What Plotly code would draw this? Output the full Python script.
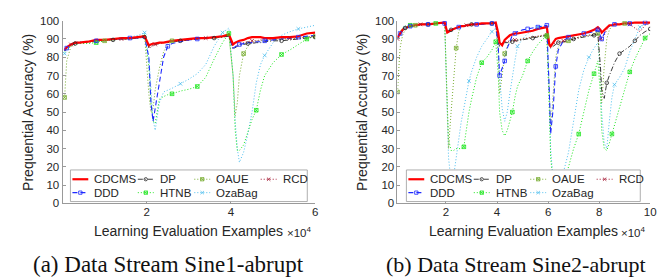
import plotly.graph_objects as go

W, H = 670, 278


def px(xp):
    return xp / W


def py(yp):
    return 1 - yp / H


# ---------------- data : panel (a) Sine1-abrupt ----------------
XA = [500, 1000, 2000, 3000, 4000, 6000, 8000, 10000, 12000, 14000, 16000, 18000, 19500,
      20500, 21000, 21500, 22000, 23000, 24000, 25000, 26000, 28000, 30000, 32000, 34000, 36000, 38000, 39500,
      40500, 41000, 41500, 42000, 43000, 44000, 45000, 46000, 47000, 48000, 50000, 52000, 54000, 56000, 58000, 60000]

A_CDCMS = [84, 85.5, 87, 88, 88, 88.5, 89.5, 89.5, 90, 90.5, 90.5, 91, 91.5,
           86.5, 87, 87.5, 87.5, 88, 88, 88.5, 89, 89.5, 90, 90.5, 90.5, 91, 91.5, 92.5,
           87, 88, 88.5, 89, 89.5, 90.5, 91, 91, 91, 90.5, 90.5, 91, 91, 91.5, 93, 93.5]
A_DDD = [83.5, 85, 87, 87.5, 88, 88.5, 89, 89.5, 90, 90, 90.5, 90.5, 91,
         80, 55, 45, 52, 68, 80, 86, 87.5, 88.5, 89.5, 90, 90.5, 91, 91.5, 92,
         85, 86, 86.5, 87, 87.5, 88, 88, 88.5, 88.5, 89, 89.5, 90, 90.5, 91, 91.5, 92]
A_DP = [83.5, 85, 86.5, 87.5, 88, 88.5, 89, 89, 89.5, 90, 90, 90.5, 91,
        85.5, 86, 86.5, 87, 87.5, 88, 88, 88.5, 89, 89.5, 90, 90.5, 90.5, 91, 91.5,
        84.5, 85.5, 86, 86.5, 87, 87.5, 87.5, 88, 88, 88.5, 89, 89, 89.5, 90, 90.5, 91]
A_HTNB = [83, 84, 86, 87, 87.5, 87.5, 88, 89, 89.5, 90, 90, 90.5, 92.5,
          75, 55, 45, 44, 57, 58.5, 59.5, 60, 61.5, 62.5, 64, 69, 79, 88, 93,
          70, 40, 29, 29, 32, 39, 46, 51, 62, 70, 77, 81.5, 84, 87, 90, 92]
A_OAUE = [58, 78, 86, 88, 88, 88, 88.5, 89, 89.5, 90, 90, 90.5, 91.5,
          60, 50, 52, 62, 74, 83, 87, 89, 89.5, 90, 90, 90.5, 90.5, 91, 92,
          70, 48, 55, 70, 82, 86, 88, 89, 89, 89.5, 89.5, 90, 90, 90.5, 91, 91.5]
A_OZABAG = [82, 85, 87, 88, 88.5, 88.5, 89, 89.5, 90, 90.5, 91, 92, 93.5,
            80, 60, 46, 40, 55, 61, 62, 63, 65.5, 68, 71, 76, 86, 93.5, 96,
            70, 45, 30, 22.5, 28, 38, 50, 66, 76, 81, 88, 92, 94, 95.5, 96.5, 97.5]
A_RCD = [84, 85, 87, 87.5, 88, 88.5, 89, 89.5, 90, 90, 90.5, 90.5, 91,
         85, 85.5, 86.5, 87, 87.5, 88, 88.5, 88.5, 89, 89.5, 90, 90.5, 91, 91, 92,
         85, 86, 87, 87.5, 88, 88.5, 89, 89, 89.5, 89.5, 90, 90, 90.5, 90.5, 91, 91.5]

# ---------------- data : panel (b) Sine2-abrupt ----------------
XB = [1000, 2000, 3000, 4000, 6000, 8000, 10000, 13000, 16000, 19500,
      20500, 21000, 22000, 23000, 24000, 25000, 26000, 27000, 28000, 29000, 30000, 32000, 34000, 36000, 38000, 39500,
      40500, 41000, 42000, 43000, 44000, 45000, 46000, 47000, 48000, 50000, 52000, 54000, 56000, 58000, 59500,
      60500, 61000, 62000, 63000, 64000, 66000, 68000, 70000, 72000, 74000, 76000, 78000, 79500,
      80500, 81000, 82000, 83000, 84000, 85000, 86000, 88000, 90000, 92000, 94000, 96000, 98000, 100000]

B_CDCMS = [91, 93, 95, 96, 97, 97.5, 98, 98, 98.5, 99,
           93.5, 94, 95, 95.5, 96, 96.5, 97, 97, 97.5, 97.5, 98, 98, 98.5, 98.5, 98.5, 99,
           93, 88, 86.5, 89.5, 91, 92, 92.5, 93, 93, 93.5, 94, 94.5, 95.5, 96, 96.5,
           87, 86, 88, 90, 90.5, 91, 91.5, 92, 92.5, 93, 94, 95, 96.5,
           95, 93.5, 95, 96.5, 97.5, 97.5, 98, 98, 98.5, 98.5, 99, 99, 99, 99]
B_DDD = [90.5, 93, 95, 96, 97, 97.5, 98, 98, 98.5, 98.5,
         94, 94.5, 95, 95.5, 96, 96.5, 97, 97, 97.5, 97.5, 98, 98, 98, 98.5, 98.5, 98.5,
         85, 70, 74, 78, 85, 89, 92, 93, 94, 95, 95.5, 96, 96.5, 97, 97.5,
         60, 38, 52, 75, 84, 89, 91, 92, 92.5, 93, 93.5, 94, 95,
         91, 90, 93, 96, 97, 97.5, 98, 98, 98.5, 98.5, 99, 99, 99, 99]
B_DP = [90.5, 92.5, 94.5, 96, 97, 97.5, 98, 98, 98.5, 98.5,
        94, 94.5, 95, 95.5, 96, 96.5, 97, 97, 97.5, 97.5, 98, 98, 98, 98.5, 98.5, 98.5,
        88, 86, 87.5, 88, 88, 88.5, 88.5, 89, 89, 89.5, 90, 90.5, 91, 91.5, 92,
        86, 85, 86, 87, 88, 88.5, 89, 90, 90.5, 91, 91.5, 92, 92.5,
        75, 62, 57.5, 66, 70, 74, 77, 82, 84, 86, 89, 92, 94, 95.5]
B_HTNB = [90, 94, 96, 97, 97.5, 98, 98, 98.5, 98.5, 99,
          55, 35, 29, 29, 30, 30, 30, 31, 42, 50, 57, 69, 77, 80, 84, 88.5,
          70, 50, 40, 37, 40, 45, 50, 58, 64, 70, 78, 83, 87, 90, 91.5,
          50, 25, 12, 7, 5, 10, 20, 30, 38, 50, 62, 71, 78,
          60, 40, 30, 29, 33, 38, 43, 52, 63, 72, 79, 85, 90.5, 93]
B_OAUE = [61, 85, 92, 95, 97, 97.5, 98, 98, 98.5, 98.5,
          45, 30, 50, 70, 85, 94, 97, 97, 97.5, 97.5, 98, 98, 98, 98.5, 98.5, 98.5,
          80, 60, 70, 82, 86, 88, 89, 89, 89.5, 90, 90.5, 91, 91.5, 92, 92,
          60, 40, 60, 80, 86, 88, 89, 90, 91, 91.5, 92, 92.5, 93,
          70, 55, 75, 90, 95, 97, 97.5, 98, 98.5, 98.5, 99, 99, 99, 99]
B_OZABAG = [90, 93, 95, 96, 97, 97.5, 98, 98, 98.5, 98.5,
            50, 25, 12, 15, 25, 35, 45, 52, 60, 67, 72, 80, 86, 90, 94, 96,
            85, 70, 52, 45, 50, 60, 70, 78, 86, 90, 93, 95, 96.5, 97, 97.5,
            60, 30, 12, 8, 10, 17, 28, 45, 62, 73, 80, 85, 88,
            70, 50, 33, 30, 45, 58, 65, 69, 74, 83, 90, 96.5, 98, 98.5]
B_RCD = [90, 92.5, 94.5, 96, 97, 97.5, 98, 98, 98.5, 98.5,
         94, 94.5, 95, 95.5, 96, 96.5, 97, 97, 97.5, 97.5, 98, 98, 98, 98.5, 98.5, 98.5,
         87, 87, 88, 88.5, 88.5, 89, 89, 89.5, 89.5, 90, 90.5, 91, 91.5, 92, 92.5,
         86, 86, 87, 88, 88.5, 89, 89.5, 90, 91, 91.5, 92, 92.5, 93,
         90, 89, 92, 95, 97, 97.5, 98, 98, 98, 98, 96, 94, 97.5, 98.5]

METHODS = ["CDCMS", "DDD", "DP", "HTNB", "OAUE", "OzaBag", "RCD"]
PANEL_A = {"CDCMS": A_CDCMS, "DDD": A_DDD, "DP": A_DP, "HTNB": A_HTNB,
           "OAUE": A_OAUE, "OzaBag": A_OZABAG, "RCD": A_RCD}
PANEL_B = {"CDCMS": B_CDCMS, "DDD": B_DDD, "DP": B_DP, "HTNB": B_HTNB,
           "OAUE": B_OAUE, "OzaBag": B_OZABAG, "RCD": B_RCD}

Y_TICKS = list(range(0, 101, 10))
XA_TICKS = [20000, 40000, 60000]
XA_TICKTEXT = ["2", "4", "6"]
XB_TICKS = [20000, 40000, 60000, 80000, 100000]
XB_TICKTEXT = ["2", "4", "6", "8", "10"]

# ---------------- styling ----------------
STYLE = {
    "CDCMS": dict(color="#ff0000", width=2.2, dash="solid", symbol=None),
    "DDD": dict(color="#1f2bff", width=1.1, dash="5px,3px", symbol="square-open"),
    "DP": dict(color="#262626", width=0.9, dash="5px,2px,1px,2px", symbol="circle-open"),
    "HTNB": dict(color="#1ee61e", width=1.0, dash="1px,2px", symbol="square-x-open"),
    "OAUE": dict(color="#77ac30", width=1.0, dash="1px,2px", symbol="square-x-open"),
    "OzaBag": dict(color="#4dbeee", width=1.0, dash="1px,2px", symbol="x-thin-open"),
    "RCD": dict(color="#a2142f", width=1.0, dash="1px,2px", symbol="x-thin-open"),
}
MARKS_A = {
    "DDD": [1000, 8000, 16000, 25000, 32000, 42000, 48000, 56000],
    "DP": [3000, 12000, 19500, 28000, 36000, 44000, 52000, 60000],
    "HTNB": [8000, 26000, 32000, 39500, 46000, 52000, 58000],
    "OAUE": [500, 10000, 26000, 43000, 60000],
    "OzaBag": [500, 19500, 28000, 38000, 48000, 56000],
    "RCD": [2000, 14000, 22000, 34000, 45000, 54000],
}
MARKS_B = {
    "DDD": [2000, 6000, 13000, 19500, 25000, 32000, 38000, 41000, 43000, 47000, 52000, 56000,
            59500, 63000, 68000, 74000, 79500, 81000, 86000, 92000, 98000],
    "DP": [4000, 13000, 22000, 30000, 38000, 46000, 54000, 64000, 70000, 78000, 83000, 88000, 94000, 100000],
    "HTNB": [6000, 16000, 27000, 34000, 39500, 46000, 52000, 59500, 72000, 78000, 85000, 92000, 98000],
    "OAUE": [1000, 8000, 24000, 43000, 59500, 68000, 79500, 90000],
    "OzaBag": [4000, 29000, 38000, 48000, 56000, 66000, 76000, 86000, 96000],
    "RCD": [1000, 10000, 28000, 47000, 66000, 80500, 92000],
}
DRAW_ORDER = ["OzaBag", "HTNB", "OAUE", "RCD", "DP", "DDD", "CDCMS"]

FONT = "Liberation Sans, Arial, sans-serif"
TXT = "#262626"
AXC = "#9a9a9a"
MSIZE = 3.6

fig = go.Figure()


def add_panel(xs, series, marks, xa, ya):
    for name in DRAW_ORDER:
        st = STYLE[name]
        ys = series[name]
        fig.add_trace(go.Scatter(x=xs, y=ys, mode="lines", xaxis=xa, yaxis=ya,
                                 line=dict(color=st["color"], width=st["width"], dash=st["dash"]),
                                 showlegend=False, hoverinfo="skip"))
    for name in DRAW_ORDER:
        st = STYLE[name]
        if not st["symbol"]:
            continue
        ms = set(marks[name])
        mx = [x for x in xs if x in ms]
        my = [y for x, y in zip(xs, series[name]) if x in ms]
        fig.add_trace(go.Scatter(x=mx, y=my, mode="markers", xaxis=xa, yaxis=ya,
                                 marker=dict(symbol=st["symbol"], size=MSIZE, color=st["color"],
                                             line=dict(color=st["color"], width=0.8)),
                                 showlegend=False, hoverinfo="skip"))


add_panel(XA, PANEL_A, MARKS_A, "x", "y")
add_panel(XB, PANEL_B, MARKS_B, "x2", "y2")

axis_common = dict(showline=True, linecolor=AXC, linewidth=1, ticks="inside", ticklen=3,
                   tickcolor=AXC, tickwidth=1, showgrid=False, zeroline=False, mirror=False,
                   tickfont=dict(family=FONT, size=11.5, color=TXT))
ydom = [py(198), py(7)]
fig.update_layout(
    xaxis=dict(domain=[px(55), px(310)], range=[0, 60000], tickvals=XA_TICKS,
               ticktext=XA_TICKTEXT, anchor="y", ticklabelstandoff=-2, **axis_common),
    yaxis=dict(domain=ydom, range=[0, 100], tickvals=Y_TICKS, anchor="x", **axis_common),
    xaxis2=dict(domain=[px(393), px(648)], range=[1000, 100000], tickvals=XB_TICKS,
                ticktext=XB_TICKTEXT, anchor="y2", ticklabelstandoff=-2, **axis_common),
    yaxis2=dict(domain=ydom, range=[0, 100], tickvals=Y_TICKS, anchor="x2", **axis_common),
)

annotations = []
shapes = []

PANELS = [
    dict(left=55, right=310, ylab_x=20, xlab_c=182.5, mult_x=279, box=(63, 302),
         caption="(a) Data Stream Sine1-abrupt", cap_x=162, cap_size=23),
    dict(left=393, right=648, ylab_x=357, xlab_c=520.5, mult_x=617, box=(402, 638),
         caption="(b) Data Stream Sine2-abrupt", cap_x=512.5, cap_size=22),
]
LEG_ROWS = [["CDCMS", "DP", "OAUE", "RCD"], ["DDD", "HTNB", "OzaBag"]]
LEG_COL_TEXT = [22, 88, 145, 212]
LEG_ROW_Y = [172.7, 186.7]
BOX_TOP, BOX_BOT = 163, 196


def glyph(name, x0, x1, yc):
    st = STYLE[name]
    out = [dict(type="line", xref="paper", yref="paper", x0=px(x0), x1=px(x1),
                y0=py(yc), y1=py(yc), layer="above",
                line=dict(color=st["color"], width=st["width"], dash=st["dash"]))]
    sym = st["symbol"]
    if sym:
        cx, r = (x0 + x1) / 2, 1.7
        ln = dict(color=st["color"], width=0.8)
        if sym.startswith("square"):
            out.append(dict(type="rect", xref="paper", yref="paper", x0=px(cx - r), x1=px(cx + r),
                            y0=py(yc + r), y1=py(yc - r), line=ln, layer="above"))
        if sym.startswith("circle"):
            out.append(dict(type="circle", xref="paper", yref="paper", x0=px(cx - r), x1=px(cx + r),
                            y0=py(yc + r), y1=py(yc - r), line=ln, layer="above"))
        if "x" in sym.split("-"):
            path = "M{},{} L{},{} M{},{} L{},{}".format(
                px(cx - r), py(yc - r), px(cx + r), py(yc + r),
                px(cx - r), py(yc + r), px(cx + r), py(yc - r))
            out.append(dict(type="path", xref="paper", yref="paper", path=path, line=ln, layer="above"))
    return out


for p in PANELS:
    annotations.append(dict(text="Prequential Accuracy (%)", x=px(p["ylab_x"]), y=py(102.5),
                            xref="paper", yref="paper", textangle=-90, showarrow=False,
                            xanchor="center", yanchor="middle",
                            font=dict(family=FONT, size=14, color=TXT)))
    annotations.append(dict(text="Learning Evaluation Examples", x=px(p["xlab_c"]), y=py(227),
                            xref="paper", yref="paper", showarrow=False,
                            xanchor="center", yanchor="middle",
                            font=dict(family=FONT, size=14, color=TXT)))
    annotations.append(dict(text="×10<sup>4</sup>", x=px(p["mult_x"]), y=py(228),
                            xref="paper", yref="paper", showarrow=False,
                            xanchor="left", yanchor="middle",
                            font=dict(family=FONT, size=11.5, color=TXT)))
    annotations.append(dict(text=p["caption"], x=px(p["cap_x"]), y=py(262),
                            xref="paper", yref="paper", showarrow=False,
                            xanchor="center", yanchor="middle",
                            font=dict(family="Liberation Serif, Times New Roman, serif",
                                      size=p["cap_size"], color="#111111")))
    bx0, bx1 = p["box"]
    shapes.append(dict(type="rect", xref="paper", yref="paper", x0=px(bx0), x1=px(bx1),
                       y0=py(BOX_BOT), y1=py(BOX_TOP), fillcolor="white",
                       line=dict(color=AXC, width=0.8), layer="above"))
    for r, row in enumerate(LEG_ROWS):
        for c, name in enumerate(row):
            tx = bx0 + LEG_COL_TEXT[c]
            yc = LEG_ROW_Y[r]
            shapes.extend(glyph(name, tx - 20, tx - 4, yc))
            annotations.append(dict(text=name, x=px(tx), y=py(yc), xref="paper", yref="paper",
                                    showarrow=False, xanchor="left", yanchor="middle",
                                    font=dict(family=FONT, size=11.5, color=TXT)))

fig.update_layout(width=W, height=H, autosize=False, margin=dict(l=0, r=0, t=0, b=0),
                  paper_bgcolor="white", plot_bgcolor="white",
                  annotations=annotations, shapes=shapes, showlegend=False)

fig.write_html("out.html")
